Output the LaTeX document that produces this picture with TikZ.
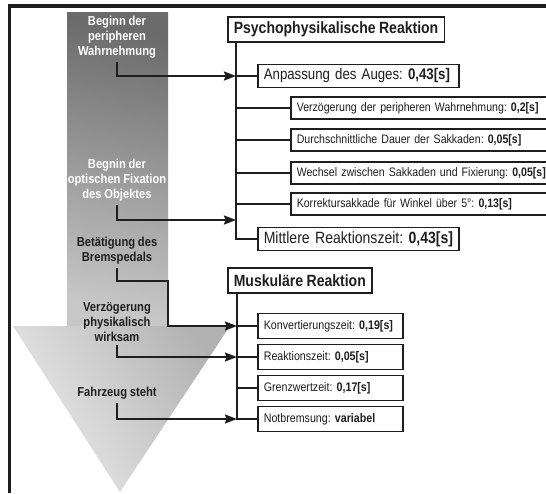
\documentclass[tikz,border=0pt]{standalone}
\usepackage{fontspec}
\setmainfont{Liberation Sans}[FakeStretch=0.86, WordSpace=0.9]
\usetikzlibrary{arrows.meta}
\definecolor{ink}{HTML}{1E1E1E}
\tikzset{
  frame/.style={line width=3.2pt, draw=ink},
  boxbase/.style={draw=ink, line width=1.6pt, fill=white, anchor=west,
    inner xsep=6pt, inner ysep=0pt, align=left, text=ink},
  headbox/.style={boxbase, font=\bfseries\fontsize{16.3}{18}\selectfont,
    minimum height=25pt},
  bigbox/.style={boxbase, font=\fontsize{16.3}{18}\selectfont, minimum height=23pt,
    text width=189pt},
  psybox/.style={boxbase, font=\fontsize{12.3}{14}\selectfont, minimum height=22pt,
    text width=258pt},
  musbox/.style={boxbase, font=\fontsize{12.4}{14}\selectfont, minimum height=25pt,
    text width=133pt},
  wlabel/.style={align=center, text=white, font=\bfseries\fontsize{13}{15}\selectfont},
  dlabel/.style={align=center, text=ink, font=\bfseries\fontsize{13}{15}\selectfont},
  wire/.style={draw=ink, line width=1.6pt},
  arr/.style={wire, -{Stealth[length=12pt, width=9pt, inset=1.5pt]}},
}
\begin{document}
\frenchspacing
\begin{tikzpicture}[x=1pt, y=-1pt]
\useasboundingbox (0,0) rectangle (546,493);
\clip (0,0) rectangle (546,493);
\fill[white] (0,0) rectangle (546,493);

% outer frame (top and left edges)
\draw[frame] (9.5,493) -- (9.5,6) -- (550,6);

% time column and funnel
\shade[top color=black!58, bottom color=black!22, shading angle=-12]
  (67,12) rectangle (168,326);
\shade[left color=black!30, right color=black!8, shading angle=-60]
  (13,326) -- (230,326) -- (120,492) -- cycle;

% trunk anchors of the two trees
\coordinate (t1) at (236,42);
\coordinate (t2) at (237,293);

% psychophysical reaction
\node[headbox] (psy) at (227,29.5) {Psychophysikalische Reaktion};
\node[bigbox, font=\fontsize{15.4}{18}\selectfont] (anp) at (257,76)
  {\mbox{Anpassung des Auges: \textbf{0,43[s]}}};
\node[psybox] (s1) at (290,108) {\mbox{Verzögerung der peripheren Wahrnehmung: \textbf{0,2[s]}}};
\node[psybox] (s2) at (290,140) {\mbox{Durchschnittliche Dauer der Sakkaden: \textbf{0,05[s]}}};
\node[psybox] (s3) at (290,173) {\mbox{Wechsel zwischen Sakkaden und Fixierung: \textbf{0,05[s]}}};
\node[psybox] (s4) at (290,204) {\mbox{Korrektursakkade für Winkel über 5°: \textbf{0,13[s]}}};
\node[bigbox] (mit) at (257,239) {\mbox{Mittlere Reaktionszeit: \textbf{0,43[s]}}};

\draw[wire] (t1) |- (mit.west);
\foreach \b in {anp,s1,s2,s3,s4}
  \draw[wire] (t1 |- \b.west) -- (\b.west);

% muscular reaction
\node[headbox] (mus) at (227,280.5) {Muskuläre Reaktion};
\node[musbox] (m1) at (257,326) {\mbox{Konvertierungszeit: \textbf{0,19[s]}}};
\node[musbox] (m2) at (257,357) {\mbox{Reaktionszeit: \textbf{0,05[s]}}};
\node[musbox] (m3) at (257,388) {\mbox{Grenzwertzeit: \textbf{0,17[s]}}};
\node[musbox] (m4) at (257,419) {\mbox{Notbremsung: \textbf{variabel}}};

\draw[wire] (t2) |- (m4.west);
\foreach \b in {m1,m2,m3}
  \draw[wire] (t2 |- \b.west) -- (\b.west);

% events along the time column
\node[wlabel] (e1) at (117,37) {Beginn der\\peripheren\\Wahrnehmung};
\node[wlabel] (e2) at (117,180.5) {Begnin der\\optischen Fixation\\des Objektes};
\node[dlabel] (e3) at (117,251) {Betätigung des\\Bremspedals};
\node[dlabel] (e4) at (117,322) {Verzögerung\\physikalisch\\wirksam};
\node[dlabel] (e5) at (117,393) {Fahrzeug steht};

\coordinate (k2) at (236,220);
\coordinate (k3) at (168,281);

\draw[arr] (e1.south) |- (t1 |- anp.west);
\draw[arr] (e2.south) |- (k2);
\draw[arr] (e3.south) |- (k3) |- (t2 |- m1.west);
\draw[arr] (e4.south) |- (t2 |- m2.west);
\draw[arr] (e5.south) |- (t2 |- m4.west);
\end{tikzpicture}
\end{document}
